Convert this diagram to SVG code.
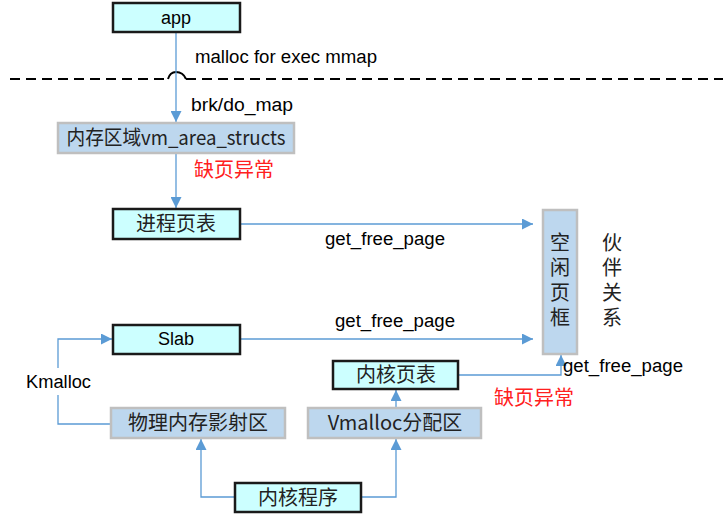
<svg xmlns="http://www.w3.org/2000/svg" width="723" height="519" viewBox="0 0 723 519">
<defs>
<style>
.k{fill:#ccffff;stroke:#1a1a1a;stroke-width:2.5}
.b{fill:#bdd7ee;stroke:#bfbfbf;stroke-width:2.5}
.t{font-family:"Liberation Sans","Noto Sans CJK SC",sans-serif;font-size:18px;fill:#000}
.m{text-anchor:middle}
.c{font-family:"Noto Sans CJK SC","Liberation Sans",sans-serif;font-size:20px;fill:#222;text-anchor:middle}
.v{font-family:"Noto Sans CJK SC",sans-serif;font-size:20px;fill:#222;writing-mode:vertical-rl;text-orientation:upright;letter-spacing:5px}
.r{font-family:"Noto Sans CJK SC",sans-serif;font-size:20px;fill:#ff2020;text-anchor:middle}
.e{fill:none;stroke:#5b9bd5;stroke-width:1.3}
</style>
<marker id="a" viewBox="0 0 10 10" refX="10" refY="5" markerWidth="11" markerHeight="11" markerUnits="userSpaceOnUse" orient="auto"><path d="M0,0L10,5L0,10z" fill="#5b9bd5"/></marker>
</defs>
<path d="M10,79H168 M186,79H723" stroke="#000" stroke-width="2" stroke-dasharray="10,6" fill="none"/>
<path d="M168,79 Q170,72 176,72 Q183,72 186,79" stroke="#000" stroke-width="2" fill="none"/>
<g id="connectors">
<path class="e" d="M176,32V122" marker-end="url(#a)"/>
<path class="e" d="M176,153V208" marker-end="url(#a)"/>
<path class="e" d="M240,224H533" marker-end="url(#a)"/>
<path class="e" d="M240,339H533" marker-end="url(#a)"/>
<path class="e" d="M111,424H58V395 M58,368V339H112" marker-end="url(#a)"/>
<path class="e" d="M458,375H561V355" marker-end="url(#a)"/>
<path class="e" d="M396,408V390" marker-end="url(#a)"/>
<path class="e" d="M235,497H201V439" marker-end="url(#a)"/>
<path class="e" d="M361,497H396V439" marker-end="url(#a)"/>
<text class="t" x="195" y="63" textLength="182" lengthAdjust="spacingAndGlyphs">malloc for exec mmap</text>
<text class="t" x="191" y="111" textLength="102" lengthAdjust="spacingAndGlyphs">brk/do_map</text>
<text class="r" x="234" y="177">缺页异常</text>
<text class="t" x="325" y="245" textLength="120" lengthAdjust="spacingAndGlyphs">get_free_page</text>
<text class="t" x="335" y="327" textLength="120" lengthAdjust="spacingAndGlyphs">get_free_page</text>
<text class="t" x="563" y="372" textLength="120" lengthAdjust="spacingAndGlyphs">get_free_page</text>
<text class="r" x="534" y="405">缺页异常</text>
<text class="t" x="26" y="388" textLength="65" lengthAdjust="spacingAndGlyphs">Kmalloc</text>
</g>
<g id="app"><rect class="k" x="113" y="3" width="127" height="29"/><text class="t m" x="176" y="24">app</text></g>
<g id="vma"><rect class="b" x="58" y="123" width="236" height="30"/><text class="c" x="176" y="145" textLength="219" lengthAdjust="spacingAndGlyphs">内存区域vm_area_structs</text></g>
<g id="ptable"><rect class="k" x="113" y="209" width="127" height="30"/><text class="c" x="176" y="231">进程页表</text></g>
<g id="free"><rect class="b" x="543" y="210" width="34" height="144"/>
<text class="v" x="560" y="232">空闲页框</text></g>
<g id="buddy"><text class="v" x="612" y="232">伙伴关系</text></g>
<g id="slab"><rect class="k" x="113" y="325" width="127" height="29"/><text class="t m" x="176" y="345">Slab</text></g>
<g id="kptable"><rect class="k" x="333" y="361" width="125" height="28"/><text class="c" x="396" y="382">内核页表</text></g>
<g id="phys"><rect class="b" x="111" y="408" width="174" height="30"/><text class="c" x="198" y="430">物理内存影射区</text></g>
<g id="vmalloc"><rect class="b" x="308" y="408" width="173" height="30"/><text class="c" x="395" y="430">Vmalloc分配区</text></g>
<g id="kernel"><rect class="k" x="235" y="483" width="126" height="29"/><text class="c" x="298" y="505">内核程序</text></g>
</svg>
